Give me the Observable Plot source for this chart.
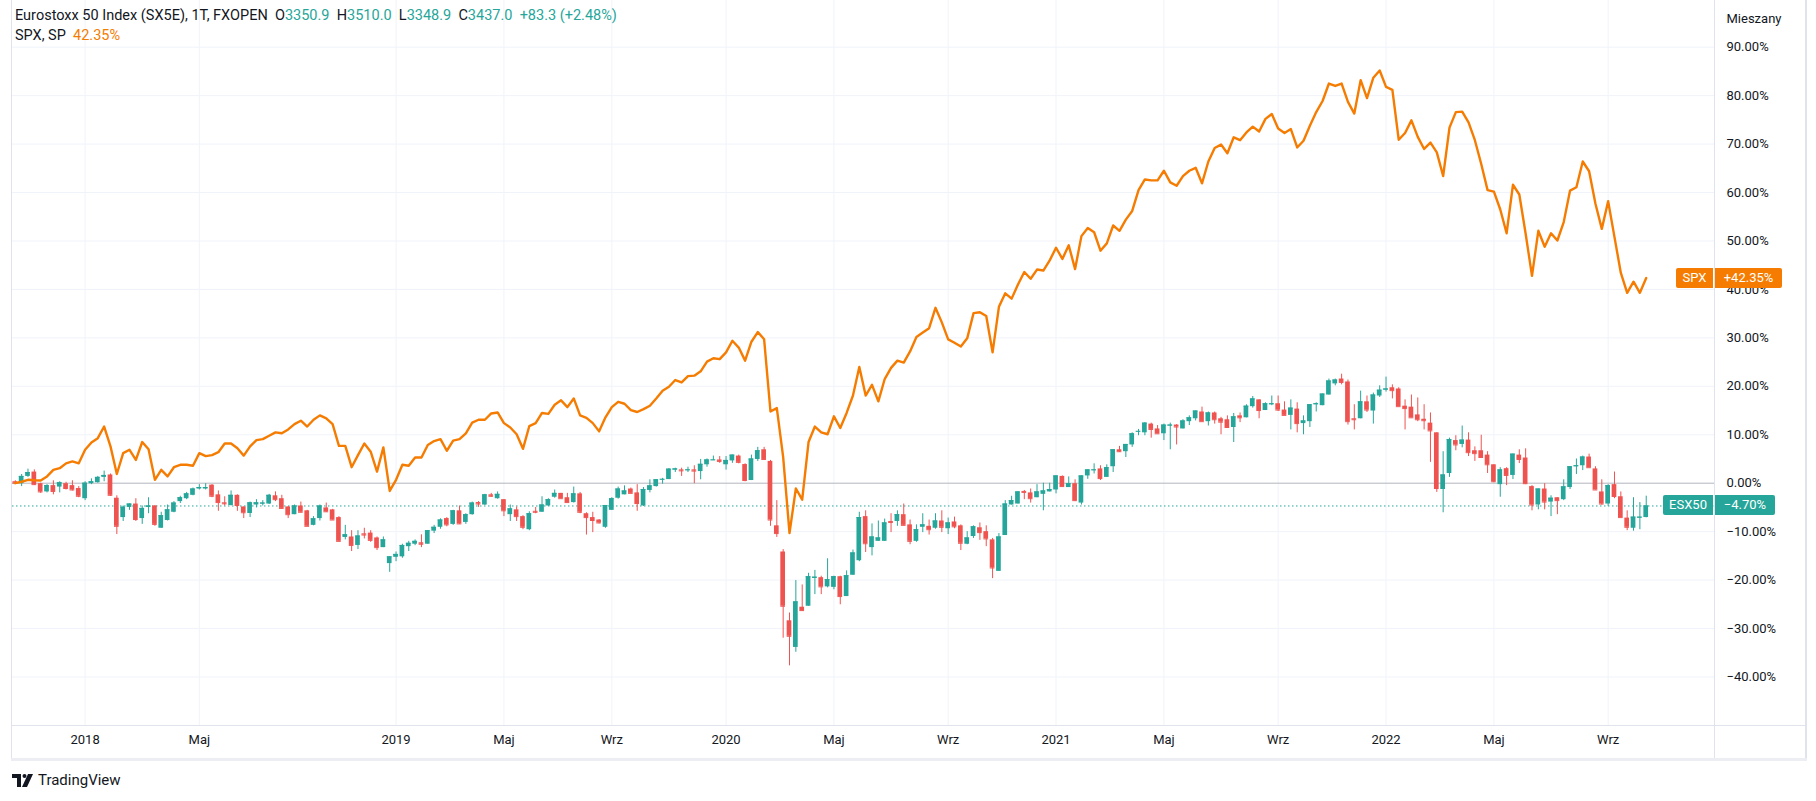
<!DOCTYPE html>
<html><head><meta charset="utf-8">
<script src="https://cdn.jsdelivr.net/npm/d3@7"></script>
<script src="https://cdn.jsdelivr.net/npm/@observablehq/plot@0.6"></script>
<style>
html,body{margin:0;padding:0;background:#fff;}
body{width:1816px;height:801px;position:relative;overflow:hidden;font-family:Roboto,"Noto Sans",sans-serif;color:#131722;}
#chart{position:absolute;left:0;top:0;}
.hdr{position:absolute;left:15px;font-size:14.5px;white-space:pre;line-height:17px;color:#131722;}
.up{color:#26a69a}.or{color:#f57c00}
.ln{position:absolute;background:#e0e3eb;}
.lab{position:absolute;height:20px;line-height:20px;font-size:13px;color:#fff;text-align:center;}
#foot{position:absolute;left:12px;top:771px;font-size:15px;color:#131722;display:flex;align-items:center;gap:4px;}
</style></head><body>
<div id="chart"></div>
<script>
// ESX50 weekly candles, % change vs first bar
const open = [
0.3,-0.1,1.4,2.3,-0.1,-1.8,-0.5,-0.8,-0.1,-0.5,
-1.1,-3.2,-0.1,0.1,1.2,1.7,-3.1,-7.1,-5.0,-4.3,
-7.3,-5.0,-4.7,-9.3,-7.7,-6.0,-3.8,-3.2,-2.5,-1.2,
-1.2,-0.4,-2.4,-4.05,-4.6,-2.5,-4.9,-6.25,-4.5,-4.3,
-4.3,-2.6,-3.2,-4.9,-6.5,-4.7,-5.7,-8.7,-7.3,-5.1,
-5.5,-7.1,-11.2,-11.1,-12.85,-10.45,-10.3,-11.3,-13.3,-16.6,
-15.3,-15.2,-13.1,-12.6,-12.3,-12.6,-9.9,-9.1,-7.3,-8.5,
-5.7,-8.1,-6.5,-4.0,-4.5,-2.4,-3.2,-3.4,-6.5,-5.5,
-6.9,-9.6,-5.8,-6.0,-4.7,-2.9,-2.1,-3.0,-4.0,-2.2,
-6.3,-7.1,-7.6,-9.1,-5.6,-3.1,-2.4,-1.2,-2.0,-4.7,
-1.5,-0.7,0.7,0.75,2.7,2.75,2.6,2.75,2.4,3.8,
4.7,4.8,3.8,4.6,5.6,3.85,0.55,4.9,6.9,4.5,
-8.8,-14.2,-28.4,-33.9,-25.6,-25.4,-19.65,-19.5,-21.4,-21.5,
-19.3,-23.4,-19.0,-16.0,-6.9,-13.3,-12.0,-12.0,-7.9,-7.9,
-6.5,-8.6,-12.0,-9.1,-8.9,-9.3,-7.8,-9.4,-8.0,-8.8,
-12.6,-11.0,-9.2,-10.0,-11.7,-18.2,-10.8,-4.5,-4.3,-1.7,
-2.0,-3.0,-2.3,-1.8,-1.4,1.4,-0.9,-0.1,-4.1,1.5,
2.6,2.95,1.2,3.4,6.9,6.5,7.9,10.65,10.4,12.2,
11.2,10.2,11.8,12.0,11.2,12.7,13.3,14.7,12.7,14.5,
13.3,13.1,11.5,13.9,13.5,15.8,17.2,15.0,16.2,16.4,
15.1,14.0,15.3,12.3,12.7,16.2,16.0,18.2,20.5,21.5,
20.9,13.3,13.3,16.8,14.9,18.0,19.2,19.7,19.45,15.9,
15.7,14.1,13.2,12.4,10.4,-1.3,2.0,8.8,8.0,8.9,
6.7,6.7,5.8,3.8,-0.3,3.0,1.6,5.8,5.2,-0.7,
-4.5,-1.2,-3.9,-3.0,-3.4,-0.9,3.4,3.6,5.4,2.95,
-1.8,-4.3,-0.3,-2.8,-7.2,-9.3,-7.2,-7.09];
const high = [
0.5,1.8,2.9,2.75,0,-0.3,0.5,0.3,0.2,0.5,
-0.7,0.3,0.9,1.4,2.5,1.9,-2.6,-4.7,-4.3,-3.2,
-4.7,-3.0,-4.6,-6.0,-4.5,-3.8,-2.7,-1.9,-1.0,-0.3,
-0.1,-0.3,-1.6,-2.8,-1.6,-2.4,-4.9,-3.9,-3.4,-3.6,
-2.3,-1.8,-2.5,-4.8,-4.5,-3.9,-5.6,-6.9,-4.5,-4.1,
-5.4,-6.9,-8.7,-9.8,-9.8,-9.3,-9.8,-11.1,-11.1,-15.2,
-14.2,-12.6,-12.0,-11.7,-10.65,-9.8,-8.7,-7.35,-7.1,-5.6,
-4.7,-6.3,-3.9,-3.8,-2.3,-2.1,-1.8,-3.4,-4.5,-4.9,
-6.7,-5.9,-5.0,-2.8,-3.2,-1.4,-2.1,-2.1,-0.8,-1.9,
-6.1,-6.0,-7.5,-4.6,-3.0,-0.8,-0.55,-1.0,-0.3,-0.9,
0.7,0.7,1.0,3.0,3.1,3.1,3.3,3.6,4.9,5.0,
5.6,5.5,5.5,5.8,5.8,4.0,5.8,7.4,7.4,4.7,
-3.6,-13.7,-26.8,-20.1,-21.0,-18.6,-18.0,-19.2,-15.6,-19.2,
-19.2,-18.1,-13.8,-6.0,-5.7,-8.4,-7.8,-7.4,-6.3,-5.7,
-4.3,-7.6,-8.6,-6.3,-7.6,-6.3,-5.7,-7.2,-7.0,-8.6,
-10.0,-8.8,-8.2,-8.8,-11.4,-10.4,-3.6,-2.7,-1.8,-1.5,
-1.2,-0.3,0,0,1.5,1.5,1.3,0.7,1.5,2.75,
4.0,3.6,3.8,6.9,7.6,8.0,10.4,11.1,12.5,12.4,
11.9,12.2,12.4,12.1,13.1,13.9,14.9,15.7,14.7,14.7,
13.6,13.9,14.4,14.5,16.2,17.9,17.2,16.6,18.0,18.0,
16.8,17.2,16.6,13.9,16.2,16.6,18.4,21.5,21.5,22.5,
21.3,16.2,19.0,18.0,18.6,20.1,21.9,20.3,19.7,17.2,
18.2,17.6,16.2,14.5,10.4,6.5,9.3,9.8,11.8,10.4,
7.5,9.9,6.5,3.8,3.2,3.2,6.0,6.9,7.1,-0.5,
-1.2,-0.1,-2.6,-3.0,0.7,3.4,5.0,5.6,6.0,3.4,
0.7,-0.3,2.3,-1.8,-5.7,-3.0,-4.0,-2.68];
const low = [
-0.2,-0.7,1.2,-0.4,-2.1,-2.0,-2.4,-2.0,-1.4,-1.6,
-3.0,-3.6,-0.3,0,0.3,-2.7,-10.6,-7.9,-5.6,-7.9,
-8.5,-6.3,-8.9,-9.3,-7.8,-6.1,-4.2,-3.4,-2.6,-1.4,
-1.4,-3.0,-5.8,-4.7,-4.7,-5.8,-7.3,-7.1,-5.1,-4.7,
-4.4,-3.8,-5.3,-7.3,-6.5,-6.1,-8.9,-8.8,-7.8,-6.0,
-7.6,-12.1,-11.7,-14.1,-13.7,-11.5,-12.2,-13.9,-13.3,-18.4,
-16.2,-15.5,-14.1,-12.9,-13.3,-12.6,-10.4,-9.5,-9.0,-8.7,
-8.5,-8.5,-6.6,-5.0,-4.6,-2.9,-3.3,-6.9,-7.9,-7.9,
-9.6,-9.8,-6.3,-6.0,-4.8,-3.1,-3.2,-4.0,-4.1,-6.3,
-10.7,-10.2,-8.4,-9.3,-5.6,-3.3,-2.4,-2.1,-5.8,-4.8,
-2.0,-0.8,-0.2,0.75,2.2,1.4,2.2,-0.1,0.7,3.3,
4.7,4.1,2.7,4.1,4.0,0.3,0.55,4.5,4.8,-8.9,
-11.2,-32.0,-37.7,-34.9,-26.4,-25.4,-23.0,-23.0,-21.6,-22.0,
-25.1,-23.4,-19.0,-16.2,-14.3,-15.0,-12.0,-12.0,-10.2,-8.9,
-8.7,-12.7,-12.2,-10.2,-10.7,-9.5,-10.2,-10.6,-9.4,-13.9,
-12.7,-11.4,-11.8,-13.1,-19.7,-18.2,-10.8,-4.5,-4.3,-3.4,
-4.1,-3.0,-5.7,-1.8,-2.2,-0.7,-0.9,-3.8,-4.5,0.8,
1.9,0.55,1.2,2.2,6.4,5.3,7.4,9.8,9.8,9.3,
10.2,8.8,6.9,7.9,11.2,11.9,12.85,12.7,11.8,12.2,
10.0,11.5,8.4,12.5,13.5,15.5,13.3,15.0,16.0,14.8,
14.0,11.0,10.4,10.0,11.5,14.7,16.0,18.2,20.1,20.3,
12.0,11.0,13.3,14.6,12.2,17.7,18.8,17.4,15.8,11.0,
13.5,12.7,11.0,4.3,-1.9,-6.1,1.2,6.7,7.3,5.5,
4.5,5.3,2.0,0.1,-2.9,-0.5,0.75,4.05,-0.3,-5.7,
-5.5,-5.5,-6.9,-6.5,-3.6,-1.3,1.8,2.6,3.2,-1.4,
-4.5,-4.8,-3.2,-7.1,-9.8,-9.9,-9.6,-7.14];
const close = [
0,1.4,2.2,-0.3,-1.8,-0.5,-1.7,0.1,-1.1,-1.4,
-2.7,0,0.3,1.2,1.6,-2.5,-8.9,-4.95,-4.3,-7.5,
-5.2,-4.7,-8.5,-6.7,-5.5,-4.1,-3.0,-2.2,-1.2,-0.9,
-0.9,-2.7,-4.0,-4.25,-2.5,-4.6,-6.1,-4.05,-4.05,-4.1,
-2.5,-3.4,-5.2,-6.5,-4.7,-6.0,-8.9,-7.35,-4.7,-5.9,
-7.6,-12.0,-10.65,-12.85,-10.9,-10.7,-11.8,-13.3,-11.7,-15.2,
-14.7,-12.85,-12.4,-12.0,-12.6,-9.8,-9.1,-7.6,-8.6,-5.7,
-8.4,-6.5,-4.1,-4.3,-2.4,-2.7,-2.3,-5.7,-5.3,-6.9,
-9.1,-6.3,-6.0,-4.5,-3.4,-2.1,-3.2,-4.0,-2.2,-6.0,
-7.1,-7.7,-8.2,-4.6,-3.2,-1.2,-1.6,-2.1,-4.2,-1.3,
-0.55,0.7,0.8,2.9,2.95,2.55,2.75,2.5,3.9,4.8,
4.8,4.5,4.7,5.8,4.3,0.55,5.0,6.7,4.9,-7.6,
-10.4,-25.4,-31.6,-24.5,-26.3,-19.3,-19.4,-21.4,-19.9,-19.3,
-23.4,-19.1,-14.4,-7.1,-12.5,-11.1,-11.3,-8.2,-8.1,-6.5,
-8.7,-12.0,-9.6,-8.6,-9.6,-7.8,-9.1,-8.2,-9.0,-12.4,
-11.3,-9.0,-10.2,-11.5,-17.5,-11.1,-4.3,-3.6,-1.8,-1.9,
-3.2,-1.8,-1.6,-1.3,1.5,-0.7,-0.1,-3.6,1.5,2.75,
2.75,0.95,3.2,6.9,6.5,8.0,10.2,10.7,12.4,11.1,
10.2,12.0,12.0,11.6,12.85,13.5,14.9,12.7,14.5,13.1,
12.6,11.5,13.7,13.5,15.9,17.4,15.0,16.4,16.4,15.1,
14.0,15.5,12.3,12.85,16.2,16.4,18.4,21.1,21.3,20.8,
12.7,13.1,16.8,15.1,18.2,19.2,19.45,19.1,15.8,15.4,
13.5,13.1,12.9,10.8,-1.1,1.7,9.0,7.9,8.9,6.3,
6.1,5.3,3.8,0.3,2.75,1.6,6.0,4.9,-0.1,-4.5,
-1.2,-3.9,-3.1,-3.6,-0.75,3.4,3.6,5.4,3.2,-1.4,
-4.3,-0.5,-2.75,-7.1,-9.1,-7.0,-7.01,-4.70];
// SPX weekly close, % change vs first bar
const spx = [
0,0.3,0.7,0.6,0.55,1.4,2.75,3.1,4.1,4.5,
4.1,6.9,8.4,9.3,11.7,7.6,1.9,6.2,6.9,4.8,
8.5,7.0,0.7,2.75,1.4,3.3,3.8,3.8,3.6,6.2,
5.6,5.8,6.4,8.2,8.2,7.2,5.7,7.6,8.9,9.1,
9.8,10.5,10.3,11.1,12.2,12.9,11.7,13.1,14.0,13.4,
12.2,7.7,7.7,3.3,5.8,8.2,6.5,2.4,7.4,-1.6,
0.7,3.8,3.6,5.3,5.3,7.9,8.7,9.1,6.7,8.8,
9.1,10.3,12.5,13.1,13.1,14.4,14.6,12.4,11.5,10.1,
7.1,11.8,12.4,14.5,14.3,16.2,17.1,15.7,17.5,14.0,
13.5,12.4,10.7,13.6,15.7,16.8,16.4,15.1,14.7,15.3,
16.0,17.5,19.1,19.9,21.3,20.8,22.1,22.2,23.1,25.1,
25.8,25.6,27.0,29.4,28.0,25.3,29.2,31.2,29.7,14.8,
15.5,5.4,-10.3,-1.1,-3.4,8.5,11.7,10.5,10.1,13.8,
11.4,14.5,18.1,24.0,18.1,20.3,16.9,21.5,23.8,25.3,
24.9,27.2,30.2,31.1,32.0,36.2,33.2,29.7,29.0,28.2,
29.9,35.1,35.3,34.5,27.0,36.4,39.2,38.1,41.0,43.6,
42.2,44.1,43.9,46.0,48.6,46.3,49.1,44.2,51.0,52.7,
51.8,48.0,49.5,53.2,52.1,54.4,56.2,60.5,62.7,62.5,
62.5,64.5,62.1,61.4,63.4,64.5,65.1,61.9,66.4,69.2,
69.9,68.1,71.4,70.8,72.4,73.6,72.6,75.2,76.2,73.2,
72.3,73.1,69.3,70.7,73.8,76.6,78.9,82.5,82.0,82.5,
78.7,76.3,83.2,79.5,83.7,85.2,81.8,81.2,70.9,72.3,
74.9,71.5,69.0,70.3,68.3,63.4,73.4,76.6,76.7,74.5,
70.8,65.9,60.5,60.2,56.5,51.6,61.6,59.6,51.5,42.8,
52.1,48.8,51.6,50.1,53.9,60.4,61.1,66.4,64.4,57.7,
52.5,58.2,50.8,43.4,39.3,41.6,39.3,42.35];
// time axis (bar index of the first bar of each labelled month)
const xTickIdx = [11,29,60,77,94,112,129,147,164,181,199,216,233,251];
const xTickLabels = ["2018","Maj","2019","Maj","Wrz","2020","Maj","Wrz","2021","Maj","Wrz","2022","Maj","Wrz"];
const yTicks = [-40,-30,-20,-10,0,10,20,30,40,50,60,70,80,90];

const UP = "#26a69a", DN = "#ef5350", ORANGE = "#f57c00";
const bars = close.map((c, i) => ({i, o: open[i], h: high[i], l: low[i], c, up: c >= open[i]}));
const last = bars.length - 1;
const fmtPct = v => (v < 0 ? "\u2212" : "") + Math.abs(v).toFixed(2) + "%";
const isYear = s => /^\d{4}$/.test(s);
const hw = 0.37;

function candleMarks(filter, color) {
  const data = bars.filter(filter);
  return [
    Plot.ruleX(data, {x: "i", y1: d => Math.min(d.l, d.o, d.c), y2: d => Math.max(d.h, d.o, d.c), stroke: color, strokeWidth: 1}),
    Plot.rect(data, {x1: d => d.i - hw, x2: d => d.i + hw, y1: "o", y2: "c", fill: color}),
    Plot.ruleY(data, {x1: d => d.i - hw, x2: d => d.i + hw, y: "c", stroke: color, strokeWidth: 1})
  ];
}

const chart = Plot.plot({
  width: 1816, height: 760,
  marginTop: 0, marginBottom: 35, marginLeft: 12, marginRight: 102,
  x: {domain: [0, last], range: [14.8, 14.8 + 6.346 * last], axis: null},
  y: {domain: [0, 90], range: [482.7, 46.7], axis: null},
  style: {fontFamily: "Roboto, 'Noto Sans', sans-serif", color: "#131722", background: "#fff"},
  marks: [
    Plot.ruleY(yTicks.filter(v => v !== 0), {stroke: "#f0f3fa", strokeWidth: 1}),
    Plot.ruleX(xTickIdx, {stroke: "#f0f3fa", strokeWidth: 1}),
    Plot.ruleY([0], {stroke: "#b2b5be", strokeWidth: 1}),
    Plot.ruleY([close[last]], {stroke: UP, strokeWidth: 1, strokeDasharray: "1.5,2.5"}),
    ...candleMarks(d => d.up, UP),
    ...candleMarks(d => !d.up, DN),
    Plot.line(spx, {x: (d, i) => i, y: d => d, stroke: ORANGE, strokeWidth: 2.4, strokeLinejoin: "round"}),
    Plot.text(yTicks, {y: d => d, text: fmtPct, frameAnchor: "right", textAnchor: "start", dx: 12, fontSize: 13, fill: "#131722"}),
    Plot.text(["Mieszany"], {frameAnchor: "top-right", textAnchor: "start", dx: 12, dy: 13, fontSize: 13, fill: "#131722"}),
    Plot.text(xTickIdx, {x: d => d, text: (d, i) => xTickLabels[i], frameAnchor: "bottom", dy: 18, fontSize: 13, fill: "#131722",
      fontWeight: (d, i) => isYear(xTickLabels[i]) ? "bold" : "normal"})
  ]
});
document.getElementById("chart").append(chart);

const ys = chart.scale("y");
function addLabel(left, width, y, text, bg, radius) {
  const d = document.createElement("div");
  d.className = "lab";
  d.style.left = left + "px"; d.style.width = width + "px";
  d.style.top = (ys.apply(y) - 10) + "px";
  d.style.background = bg; d.style.borderRadius = radius;
  d.textContent = text;
  document.body.append(d);
}
addLabel(1676, 37, spx[last], "SPX", ORANGE, "2px 0 0 2px");
addLabel(1715, 67, spx[last], "+" + spx[last].toFixed(2) + "%", ORANGE, "0 2px 2px 0");
addLabel(1663, 50, close[last], "ESX50", UP, "2px 0 0 2px");
addLabel(1715, 60, close[last], fmtPct(close[last]), UP, "0 2px 2px 0");
</script>
<div class="ln" style="left:11px;top:0;width:1px;height:759px"></div>
<div class="ln" style="left:12px;top:725px;width:1794px;height:1px"></div>
<div class="ln" style="left:1714px;top:0;width:1px;height:759px"></div>
<div class="ln" style="left:1805px;top:0;width:2px;height:761px"></div>
<div class="ln" style="left:11px;top:758px;width:1796px;height:3px;background:#eceef3"></div>
<div class="hdr" style="top:7px">Eurostoxx 50 Index (SX5E), 1T, FXOPEN  O<span class="up">3350.9</span>  H<span class="up">3510.0</span>  L<span class="up">3348.9</span>  C<span class="up">3437.0</span>  <span class="up">+83.3 (+2.48%)</span></div>
<div class="hdr" style="top:27px">SPX, SP  <span class="or">42.35%</span></div>
<div id="foot"><svg width="22" height="13" viewBox="0 0 22 13"><path d="M0 0H9V13H5V4H0Z" fill="#131722"/><circle cx="12.5" cy="2" r="2" fill="#131722"/><path d="M16 0H21L15 13H10Z" fill="#131722"/></svg><span>TradingView</span></div>
</body></html>
